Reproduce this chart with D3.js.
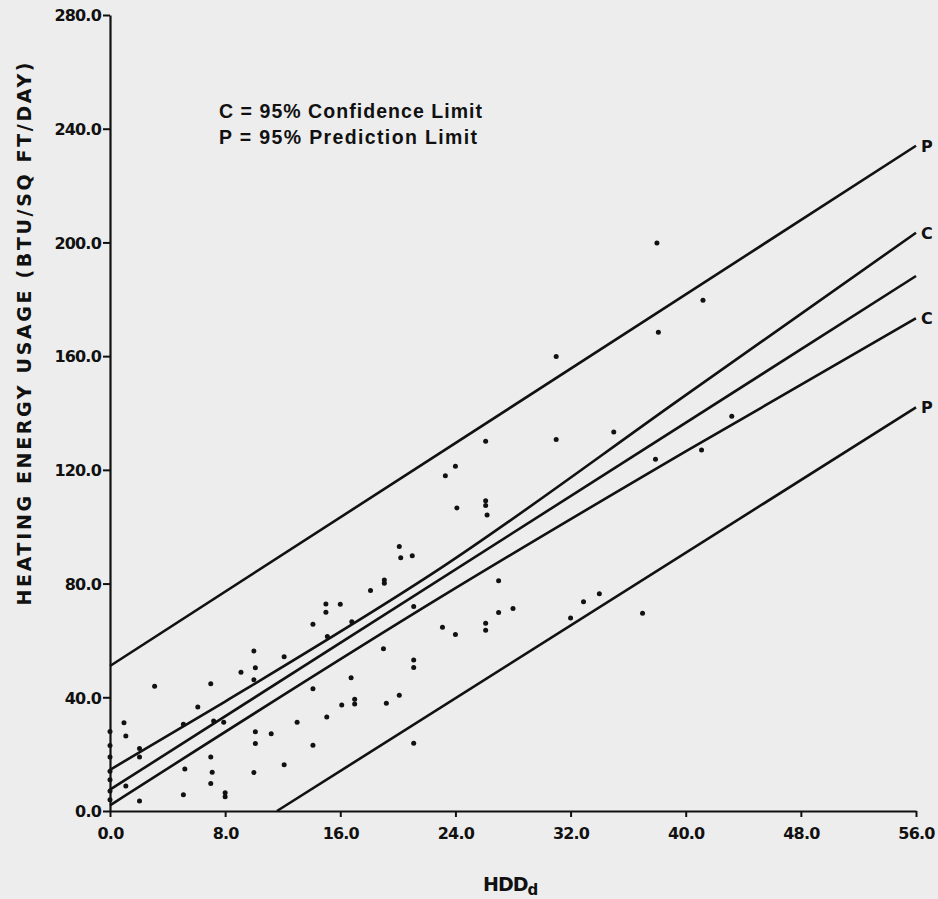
<!DOCTYPE html>
<html>
<head>
<meta charset="utf-8">
<script src="https://cdn.jsdelivr.net/npm/d3@7"></script>
<style>
  body { margin: 0; background: #ededed; }
  svg { display: block; }
</style>
</head>
<body>
<div id="chart"></div>
<script>
// scatter points, HDDd against heating energy usage
var hdd = [
  0, 0, 0, 0, 0, 0, 0,
  0.97, 1.1, 1.1,
  2.05, 2.05, 2.05,
  3.1,
  5.1, 5.2, 5.1,
  6.1,
  7.0, 7.2, 7.0, 7.1, 7.0,
  7.9, 8.0, 8.0,
  9.1,
  10.0, 10.1, 10.0, 10.1, 10.1, 10.0,
  11.2,
  12.1, 12.1,
  13.0,
  14.1, 14.1, 14.1,
  15.0, 15.0, 15.1, 15.06,
  16.0, 16.1,
  16.8, 16.75, 17.0, 17.0,
  18.1,
  19.06, 19.06, 19.0, 19.2,
  20.1, 20.2, 20.1,
  21.0, 21.1, 21.1, 21.1, 21.1,
  23.3, 23.1,
  24.0, 24.1, 24.0,
  26.1, 26.1, 26.1, 26.2, 26.1, 26.1,
  27.0, 27.0,
  28.0,
  31.0, 31.0,
  32.0, 32.9,
  34.0,
  35.0,
  37.0,
  37.9, 38.0, 38.1,
  41.1, 41.2,
  43.2
];
var usage = [
  28, 23, 19, 14, 11, 7, 4,
  31, 26.4, 8.8,
  22, 19, 3.5,
  43.9,
  30.5, 14.8, 5.7,
  36.6,
  44.8, 31.7, 19, 13.6, 9.7,
  31.2, 6.4, 5.0,
  48.8,
  56.3, 50.4, 46.2, 27.9, 23.7, 13.5,
  27.2,
  54.3, 16.3,
  31.2,
  65.7, 43, 23.1,
  72.8, 69.9, 61.4, 33.1,
  72.7, 37.3,
  66.6, 46.9, 39.3, 37.6,
  77.6,
  81.3, 80.1, 57.1, 37.9,
  93, 89.1, 40.7,
  89.8, 71.9, 53.1, 50.5, 23.8,
  117.9, 64.6,
  121.3, 106.6, 62.1,
  130.1, 109.1, 107.5, 104.1, 66, 63.6,
  81, 69.8,
  71.2,
  159.9, 130.7,
  67.9, 73.6,
  76.4,
  133.3,
  69.6,
  123.7, 199.8, 168.4,
  127, 179.7,
  138.9
];

// regression line and its limits, [hdd, usage]
var predUpper = [[0, 51], [56, 234]];
var confUpper = [[0, 14.5], [8, 38.5], [23, 85.5], [40, 146.3], [56, 203.4]];
var fitLine = [[0, 7.5], [56, 188.2]];
var confLower = [[0, 2], [23, 75.3], [40, 126.5], [56, 173.3]];
var predLower = [[11.6, 0], [56, 142]];

var lineNames = ["P", "C", "", "C", "P"];

var xTicks = [0, 8, 16, 24, 32, 40, 48, 56];
var yTicks = [0, 40, 80, 120, 160, 200, 240, 280];

var legendLines = ["C = 95% Confidence Limit", "P = 95% Prediction Limit"];

var w = 938, h = 899;
var margin = {top: 15, right: 22, bottom: 88, left: 110};
var ink = "#111";

var svg = d3.select("#chart").append("svg")
  .attr("width", w).attr("height", h);

svg.append("rect").attr("width", w).attr("height", h).attr("fill", "#ededed");

var x = d3.scaleLinear().domain([0, 56]).range([margin.left, w - margin.right]);
var y = d3.scaleLinear().domain([0, 280]).range([h - margin.bottom, margin.top]);

// axes
var xAxis = svg.append("g")
  .attr("transform", "translate(0," + y(0) + ")")
  .call(d3.axisBottom(x).tickValues(xTicks).tickFormat(d3.format(".1f"))
    .tickSize(6).tickSizeOuter(0).tickPadding(11));

var yAxis = svg.append("g")
  .attr("transform", "translate(" + x(0) + ",0)")
  .call(d3.axisLeft(y).tickValues(yTicks).tickFormat(d3.format(".1f"))
    .tickSize(7).tickSizeOuter(0).tickPadding(2));

svg.selectAll(".domain").attr("stroke", ink).attr("stroke-width", 2.2);
svg.selectAll(".tick line").attr("stroke", ink).attr("stroke-width", 2);
svg.selectAll(".tick text")
  .attr("fill", ink)
  .style("font-family", "'DejaVu Sans', sans-serif")
  .style("font-weight", "bold")
  .style("font-size", "16px")
  .style("letter-spacing", "-0.8px");
yAxis.selectAll(".tick text").attr("dy", "0.36em");

// limit lines
var line = d3.line()
  .x(function(d) { return x(d[0]); })
  .y(function(d) { return y(d[1]); })
  .curve(d3.curveMonotoneX);

var bands = [predUpper, confUpper, fitLine, confLower, predLower];

svg.selectAll("path.band")
  .data(bands)
  .enter()
  .append("path")
  .attr("class", "band")
  .attr("d", line)
  .attr("fill", "none")
  .attr("stroke", ink)
  .attr("stroke-width", 2.6);

svg.selectAll("text.bandlabel")
  .data(bands)
  .enter()
  .append("text")
  .attr("class", "bandlabel")
  .text(function(d, i) { return lineNames[i]; })
  .attr("x", function(d) { return x(d[d.length - 1][0]) + 5; })
  .attr("y", function(d) { return y(d[d.length - 1][1]) + 6; })
  .style("font-family", "'DejaVu Sans', sans-serif")
  .style("font-weight", "bold")
  .style("font-size", "16px")
  .attr("fill", ink);

// dots
svg.selectAll("circle")
  .data(hdd)
  .enter()
  .append("circle")
  .attr("cx", function(d) { return x(d); })
  .attr("cy", function(d, i) { return y(usage[i]); })
  .attr("r", 2.5)
  .attr("fill", ink);

// legend
svg.selectAll("text.legend")
  .data(legendLines)
  .enter()
  .append("text")
  .attr("class", "legend")
  .text(function(d) { return d; })
  .attr("x", 219)
  .attr("y", function(d, i) { return 118 + i * 26; })
  .attr("textLength", function(d, i) { return i == 0 ? 263 : 258; })
  .attr("lengthAdjust", "spacing")
  .style("font-family", "'Liberation Sans', sans-serif")
  .style("font-weight", "bold")
  .style("font-size", "19.5px")
  .attr("fill", ink);

// axis titles
svg.append("text")
  .attr("transform", "translate(31,334) rotate(-90)")
  .attr("text-anchor", "middle")
  .attr("textLength", 543)
  .attr("lengthAdjust", "spacing")
  .style("font-family", "'DejaVu Sans', sans-serif")
  .style("font-weight", "bold")
  .style("font-size", "19px")
  .attr("fill", ink)
  .text("HEATING ENERGY USAGE (BTU/SQ FT/DAY)");

var xTitle = svg.append("text")
  .attr("x", 483)
  .attr("y", 891)
  .style("font-family", "'DejaVu Sans', sans-serif")
  .style("font-weight", "bold")
  .style("font-size", "19px")
  .style("letter-spacing", "-1px")
  .attr("fill", ink);
xTitle.append("tspan").text("HDD");
xTitle.append("tspan").attr("dy", 4).style("font-size", "15px").text("d");
</script>
</body>
</html>
